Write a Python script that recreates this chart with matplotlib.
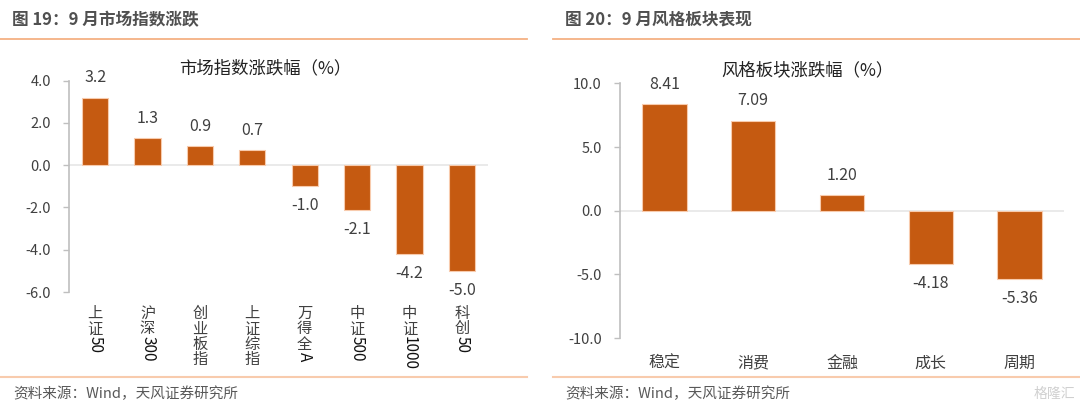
import matplotlib
matplotlib.use("Agg")
import matplotlib.pyplot as plt
from matplotlib.lines import Line2D

plt.rcParams['font.family'] = ['Noto Sans CJK SC', 'DejaVu Sans']

# data
idx_names = ["上证50", "沪深300", "创业板指", "上证综指", "万得全A", "中证500", "中证1000", "科创50"]
idx_chg = [3.2, 1.3, 0.9, 0.7, -1.0, -2.1, -4.2, -5.0]
style_names = ["稳定", "消费", "金融", "成长", "周期"]
style_chg = [8.41, 7.09, 1.20, -4.18, -5.36]

bar_c = '#C55A11'
edge_c = '#F8CBAD'
txt_c = '#404040'
line_c = '#F4B183'

W, H = 1080, 413
fig = plt.figure(figsize=(W / 100, H / 100), dpi=100)


def fx(px):
    return px / W


def fy(py):
    return 1 - py / H


def style_axes(ax):
    for s in ['top', 'right', 'bottom']:
        ax.spines[s].set_visible(False)
    ax.spines['left'].set_color('#BFBFBF')
    ax.spines['left'].set_linewidth(1.2)
    ax.tick_params(axis='y', colors='#BFBFBF', labelcolor=txt_c, labelsize=10.5,
                   length=4.5, width=1, pad=8.5)
    ax.tick_params(axis='x', length=0, labelbottom=False)
    ax.axhline(0, color='#E6E6E6', lw=1.2, zorder=1)


def vlabel(ax, x, s):
    # chinese chars stacked upright, latin tail rotated
    off = -9.5
    i = 0
    while i < len(s) and ord(s[i]) > 127:
        ax.annotate(s[i], xy=(x, 0), xycoords=('data', 'axes fraction'),
                    xytext=(0, off), textcoords='offset points',
                    ha='center', va='top', fontsize=11, color=txt_c, annotation_clip=False)
        off -= 11
        i += 1
    if i < len(s):
        ax.annotate(s[i:], xy=(x, 0), xycoords=('data', 'axes fraction'),
                    xytext=(0, off - 0.5), textcoords='offset points', rotation=-90,
                    ha='center', va='top', fontsize=11, color='#111111', annotation_clip=False)


# left chart
ax1 = fig.add_axes([fx(69), fy(292), fx(488 - 69), (292 - 80.7) / H])
xs = range(len(idx_names))
ax1.bar(xs, idx_chg, width=0.5, color=bar_c, edgecolor=edge_c, linewidth=0.8, zorder=2)
ax1.set_xlim(-0.5, len(idx_names) - 0.5)
ax1.set_ylim(-6, 4)
ax1.set_yticks([-6, -4, -2, 0, 2, 4])
ax1.set_yticklabels(["%.1f" % v for v in [-6, -4, -2, 0, 2, 4]])
style_axes(ax1)
for x, v in zip(xs, idx_chg):
    ax1.annotate("%.1f" % v, xy=(x, v), xytext=(0, 8 if v > 0 else -8),
                 textcoords='offset points', ha='center',
                 va='bottom' if v > 0 else 'top', fontsize=11.5, color=txt_c)
for x, n in zip(xs, idx_names):
    vlabel(ax1, x, n)
fig.text(fx(265), fy(68), "市场指数涨跌幅（%）", ha='center', va='center', fontsize=12.5, color='#222222')

# right chart
ax2 = fig.add_axes([fx(620), fy(338), fx(1064 - 620), (338 - 83.5) / H])
xs2 = range(len(style_names))
ax2.bar(xs2, style_chg, width=0.5, color=bar_c, edgecolor=edge_c, linewidth=0.8, zorder=2)
ax2.set_xlim(-0.5, len(style_names) - 0.5)
ax2.set_ylim(-10, 10)
ax2.set_yticks([-10, -5, 0, 5, 10])
ax2.set_yticklabels(["%.1f" % v for v in [-10, -5, 0, 5, 10]])
style_axes(ax2)
for x, v in zip(xs2, style_chg):
    ax2.annotate("%.2f" % v, xy=(x, v), xytext=(0, 8 if v > 0 else -8),
                 textcoords='offset points', ha='center',
                 va='bottom' if v > 0 else 'top', fontsize=11.5, color=txt_c)
for x, n in zip(xs2, style_names):
    ax2.annotate(n, xy=(x, 0), xycoords=('data', 'axes fraction'), xytext=(0, -12),
                 textcoords='offset points', ha='center', va='top', fontsize=11.5,
                 color=txt_c, annotation_clip=False)
fig.text(fx(807), fy(70), "风格板块涨跌幅（%）", ha='center', va='center', fontsize=12.5, color='#222222')

# headers, rules and sources
fig.text(fx(12), fy(20), "图 19：9 月市场指数涨跌", ha='left', va='center',
         fontsize=12, fontweight='bold', color='#505050')
fig.text(fx(565), fy(20), "图 20：9 月风格板块表现", ha='left', va='center',
         fontsize=12, fontweight='bold', color='#505050')
for x0, x1 in [(0, 527), (553, 1080)]:
    fig.add_artist(Line2D([fx(x0), fx(x1)], [fy(39), fy(39)], color=line_c, lw=1.3))
    fig.add_artist(Line2D([fx(x0), fx(x1)], [fy(377), fy(377)], color='#F8CBAD', lw=1.5))
fig.text(fx(13), fy(394), "资料来源：Wind，天风证券研究所", ha='left', va='center',
         fontsize=10.5, color='#595959')
fig.text(fx(565), fy(394), "资料来源：Wind，天风证券研究所", ha='left', va='center',
         fontsize=10.5, color='#595959')
fig.text(fx(1075), fy(394), "格隆汇", ha='right', va='center', fontsize=10, color='#D0D0D0')

fig.savefig("out.png", dpi=100, facecolor='white')
